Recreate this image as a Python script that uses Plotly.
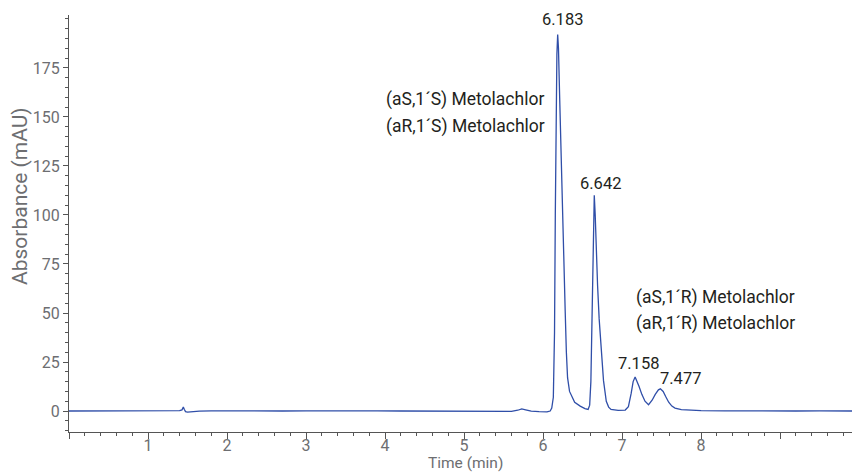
import plotly.graph_objects as go

# Retention time (min) and absorbance (mAU)
time_min = [0.0, 0.3, 0.6, 0.9, 1.2, 1.40, 1.43, 1.447, 1.46, 1.475, 1.50, 1.55, 1.65, 1.8,
            2.1, 2.4, 2.7, 3.0, 3.3, 3.6, 3.9, 4.2, 4.5, 4.8, 5.1, 5.4, 5.6, 5.68, 5.73, 5.78,
            5.85, 5.95, 6.05, 6.09, 6.11, 6.13, 6.145, 6.155, 6.165, 6.175, 6.185, 6.195,
            6.21, 6.23, 6.25, 6.265, 6.28, 6.295, 6.31, 6.335, 6.365, 6.40, 6.47, 6.53,
            6.57, 6.59, 6.605, 6.62, 6.635, 6.648, 6.66, 6.675, 6.69, 6.71, 6.735, 6.765,
            6.80, 6.83, 6.86, 6.95, 7.04, 7.08, 7.115, 7.14, 7.165, 7.19, 7.215, 7.25,
            7.29, 7.335, 7.38, 7.42, 7.46, 7.485, 7.52, 7.55, 7.59, 7.63, 7.67, 7.75,
            7.85, 8.0, 8.3, 8.6, 8.9, 9.2, 9.5, 9.91]
absorbance = [0.0, 0.1, 0.0, 0.2, 0.1, 0.2, 0.6, 2.0, 0.8, -0.3, -0.6, -0.4, -0.1, 0.1,
              0.0, 0.1, 0.0, 0.1, 0.2, 0.0, 0.1, 0.0, -0.1, 0.1, 0.0, -0.1, -0.2, 0.4, 1.1, 0.6,
              -0.1, -0.3, -0.4, 0.0, 1.5, 7.0, 40.0, 100.0, 150.0, 182.0, 192.0, 185.0,
              160.0, 125.0, 100.0, 75.0, 51.0, 30.0, 17.0, 10.0, 7.0, 4.5, 2.5, 1.2,
              0.8, 3.0, 15.0, 50.0, 95.0, 110.0, 100.0, 78.0, 64.0, 47.0, 32.0, 15.5,
              5.0, 2.0, 0.8, 0.3, 0.5, 2.2, 9.0, 15.0, 17.3, 15.0, 12.5, 8.5,
              5.0, 3.2, 5.5, 8.5, 10.8, 11.3, 10.0, 7.5, 4.5, 2.5, 1.5, 0.7,
              0.4, 0.2, 0.1, 0.0, 0.1, 0.0, 0.1, 0.0]

# Retention-time labels and where they sit (data coordinates)
peak_labels = ["6.183", "6.642", "7.158", "7.477"]
peak_label_x = [6.241, 6.728, 7.203, 7.734]
peak_label_y = [199.5, 116.3, 24.0, 16.8]

# Compound name lines and their left-edge positions (data coordinates)
compound_lines = ["(aS,1´S) Metolachlor", "(aR,1´S) Metolachlor",
                  "(aS,1´R) Metolachlor", "(aR,1´R) Metolachlor"]
compound_x = [3.987, 3.987, 7.152, 7.152]
compound_y = [158.7, 144.9, 57.7, 44.9]

x_tick_vals = [0, 1, 2, 3, 4, 5, 6, 7, 8, 9]
x_tick_text = ["", "1", "2", "3", "4", "5", "6", "7", "8", ""]
y_tick_vals = [0, 25, 50, 75, 100, 125, 150, 175]

FONT = "Roboto, 'Liberation Sans', sans-serif"
GRAY = "#6d6e71"
TXT = "#231f20"
AXC = "#555555"

fig = go.Figure()
fig.add_trace(go.Scatter(x=time_min, y=absorbance, mode="lines",
                         line=dict(color="#2f4ea8", width=1.3), hoverinfo="skip",
                         showlegend=False))

for lab, x, y in zip(peak_labels, peak_label_x, peak_label_y):
    fig.add_annotation(x=x, y=y, text=lab, showarrow=False, xanchor="center",
                       yanchor="middle", font=dict(family=FONT, size=16.5, color=TXT))

for lab, x, y in zip(compound_lines, compound_x, compound_y):
    fig.add_annotation(x=x, y=y, text=lab, showarrow=False, xanchor="left",
                       yanchor="middle", font=dict(family=FONT, size=17.5, color=TXT))

# axis titles
fig.add_annotation(xref="paper", yref="paper", x=0.506, y=-0.0755, text="Time (min)",
                   showarrow=False, xanchor="center", yanchor="middle", borderpad=0,
                   font=dict(family=FONT, size=15.5, color=GRAY))
fig.add_annotation(xref="paper", yref="paper", x=-0.0626, y=0.566,
                   text="Absorbance (mAU)", textangle=-90, showarrow=False,
                   xanchor="center", yanchor="middle",
                   font=dict(family=FONT, size=21, color=GRAY))

fig.update_layout(
    width=852, height=473,
    margin=dict(l=69, r=0, t=15, b=41),
    paper_bgcolor="white", plot_bgcolor="white",
    font=dict(family=FONT, color=GRAY, size=16),
    xaxis=dict(range=[0, 9.91], tickmode="array", tickvals=x_tick_vals,
               ticktext=x_tick_text, ticks="outside", ticklen=6, tickcolor=AXC,
               showline=True, linecolor=AXC, linewidth=1, showgrid=False,
               zeroline=False, automargin=False, tickfont=dict(size=16, color=GRAY),
               ticklabelstandoff=-7,
               minor=dict(dtick=0.2, tick0=0, ticks="outside", ticklen=3,
                          tickcolor=AXC, showgrid=False)),
    yaxis=dict(range=[-10.7, 202], tickmode="array", tickvals=y_tick_vals,
               ticks="outside", ticklen=5, tickcolor=AXC,
               showline=True, linecolor=AXC, linewidth=1, showgrid=False,
               zeroline=False, automargin=False, tickfont=dict(size=16, color=GRAY),
               minor=dict(dtick=5, tick0=0, ticks="outside", ticklen=3,
                          tickcolor=AXC, showgrid=False)),
)

fig.write_html("out.html")
